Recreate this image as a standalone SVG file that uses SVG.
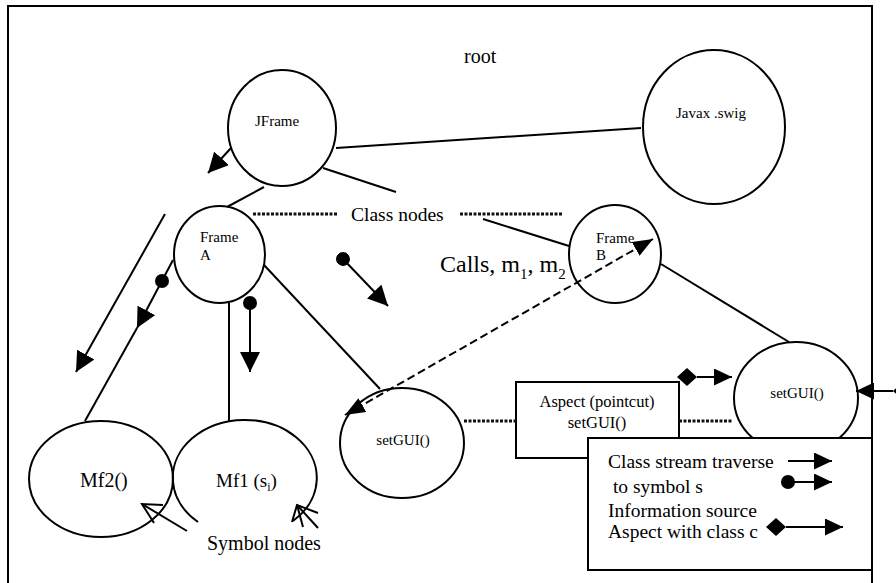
<svg xmlns="http://www.w3.org/2000/svg" width="896" height="583" viewBox="0 0 896 583">
<defs>
<style>
.ser{font-family:"Liberation Serif","Times New Roman",serif;fill:#000}
.nd{fill:none;stroke:#000;stroke-width:2}
.ln{fill:none;stroke:#000;stroke-width:2}
.dot{fill:none;stroke:#111;stroke-width:3;stroke-dasharray:3 1.5}
.dash{fill:none;stroke:#000;stroke-width:2;stroke-dasharray:8 4}
.box{fill:#fff;stroke:#000;stroke-width:2}
</style>
<marker id="ah" viewBox="0 0 20 20" markerWidth="20" markerHeight="20" refX="20" refY="10" orient="auto" markerUnits="userSpaceOnUse"><path d="M0,0 L20,10 L0,20 z" fill="#000"/></marker>
<marker id="ahs" viewBox="0 0 18 17" markerWidth="18" markerHeight="17" refX="18" refY="8.5" orient="auto" markerUnits="userSpaceOnUse"><path d="M0,0 L18,8.5 L0,17 z" fill="#000"/></marker>
<marker id="ahd" viewBox="0 0 20 16" markerWidth="20" markerHeight="16" refX="20" refY="8" orient="auto-start-reverse" markerUnits="userSpaceOnUse"><path d="M0,0 L20,8 L0,16 z" fill="#000"/></marker>
<marker id="ball" viewBox="0 0 14 14" markerWidth="14" markerHeight="14" refX="7" refY="7" orient="auto" markerUnits="userSpaceOnUse"><circle cx="7" cy="7" r="7" fill="#000"/></marker>
<marker id="dia" viewBox="0 0 20 18" markerWidth="20" markerHeight="18" refX="20" refY="9" orient="auto" markerUnits="userSpaceOnUse"><path d="M0,9 L10,0 L20,9 L10,18 z" fill="#000"/></marker>
</defs>
<rect width="896" height="583" fill="#fff"/>
<rect x="8" y="6" width="864" height="600" fill="none" stroke="#000" stroke-width="2"/>
<text class="ser" x="464" y="63" font-size="20">root</text>

<g id="jframe"><ellipse class="nd" cx="282" cy="128" rx="54" ry="58"/><text class="ser" x="255" y="126" font-size="15">JFrame</text></g>
<g id="javaxswig"><ellipse class="nd" cx="714" cy="127" rx="71" ry="77"/><text class="ser" x="676" y="118" font-size="15">Javax .swig</text></g>
<g id="frameA"><ellipse class="nd" cx="219.5" cy="254.5" rx="45.5" ry="48.5"/><text class="ser" x="200" y="242" font-size="15">Frame</text><text class="ser" x="200" y="260" font-size="15">A</text></g>
<g id="frameB"><ellipse class="nd" cx="615" cy="254" rx="46" ry="49"/><text class="ser" x="596" y="243" font-size="15">Frame</text><text class="ser" x="596" y="260" font-size="15">B</text></g>
<g id="mf2"><ellipse class="nd" cx="101" cy="479" rx="72" ry="58"/><text class="ser" x="80" y="487" font-size="20">Mf2()</text></g>
<g id="mf1"><path class="nd" d="M198,522 A72,58 0 1 1 293,521"/><text class="ser" x="216" y="487" font-size="19">Mf1 (s<tspan font-size="12" dy="4">i</tspan><tspan dy="-4">)</tspan></text></g>
<g id="setgui1"><ellipse class="nd" cx="402" cy="443" rx="62" ry="55"/><text class="ser" x="403" y="445" font-size="15" text-anchor="middle">setGUI()</text></g>
<g id="aspect"><rect class="box" x="516" y="382" width="163" height="76"/><text class="ser" x="597" y="407" font-size="16.5" text-anchor="middle">Aspect (pointcut)</text><text class="ser" x="597" y="428" font-size="16.5" text-anchor="middle">setGUI()</text></g>
<g id="setgui2"><ellipse class="nd" cx="796" cy="398" rx="62" ry="56"/><text class="ser" x="797" y="398" font-size="15" text-anchor="middle">setGUI()</text></g>

<g id="labels">
<text class="ser" x="351" y="221" font-size="19.5">Class nodes</text>
<text class="ser" x="440" y="272" font-size="24">Calls, m<tspan font-size="15" dy="7">1</tspan><tspan dy="-7">, m</tspan><tspan font-size="15" dy="7">2</tspan></text>
<text class="ser" x="207" y="550" font-size="20">Symbol nodes</text>
</g>

<g id="connectors">
<line class="ln" x1="336" y1="148" x2="641" y2="128"/>
<line class="ln" x1="323" y1="168" x2="396" y2="192"/>
<line class="ln" x1="483" y1="219" x2="569" y2="246"/>
<line class="ln" x1="264" y1="187" x2="227" y2="207"/>
<line class="ln" x1="231" y1="148" x2="208" y2="173" marker-end="url(#ah)"/>
<line class="ln" x1="264" y1="265" x2="380" y2="389"/>
<line class="ln" x1="229" y1="303" x2="229" y2="421"/>
<line class="ln" x1="173" y1="260" x2="137" y2="328" marker-end="url(#ah)"/>
<line class="ln" x1="137" y1="328" x2="85" y2="421"/>
<circle cx="162" cy="281" r="7" fill="#000"/>
<line class="ln" x1="165" y1="214" x2="76" y2="372" marker-end="url(#ah)"/>
<line class="ln" x1="250" y1="303" x2="250" y2="372" marker-start="url(#ball)" marker-end="url(#ah)"/>
<line class="ln" x1="343" y1="259" x2="388" y2="306" marker-start="url(#ball)" marker-end="url(#ah)"/>
<line class="ln" x1="661" y1="264" x2="789" y2="342"/>
<line class="dash" x1="345" y1="415" x2="653" y2="239" marker-start="url(#ahd)" marker-end="url(#ahd)"/>
<line class="dot" x1="253" y1="214" x2="337" y2="214"/>
<line class="dot" x1="460" y1="214" x2="563" y2="214"/>
<line class="dot" x1="464" y1="421" x2="516" y2="421"/>
<line class="dot" x1="679" y1="421" x2="733" y2="421"/>
<line class="ln" x1="697" y1="377" x2="732" y2="377" marker-start="url(#dia)" marker-end="url(#ahs)"/>
<line class="ln" x1="893" y1="391" x2="856" y2="391" marker-start="url(#dia)" marker-end="url(#ahs)"/>
<line class="ln" x1="187" y1="531" x2="142" y2="504"/>
<polyline class="ln" points="163,505 142,504 154,523"/>
<polyline class="ln" points="318,513 297,505 292,522"/>
<line class="ln" x1="318" y1="528" x2="297" y2="505"/>
<line class="ln" x1="303" y1="527" x2="297" y2="505"/>
</g>

<g id="legend">
<rect class="box" x="588" y="438" width="284" height="132"/>
<text class="ser" x="608" y="468" font-size="19.5">Class stream traverse</text>
<text class="ser" x="608" y="493" font-size="19.5" xml:space="preserve"> to symbol s</text>
<text class="ser" x="608" y="517" font-size="19.5">Information source</text>
<text class="ser" x="608" y="538" font-size="19.5">Aspect with class c</text>
<line class="ln" x1="788" y1="461" x2="832" y2="461" marker-end="url(#ahs)"/>
<line class="ln" x1="788" y1="482" x2="832" y2="482" marker-start="url(#ball)" marker-end="url(#ahs)"/>
<line class="ln" x1="786" y1="527" x2="843" y2="527" marker-start="url(#dia)" marker-end="url(#ahs)"/>
</g>
</svg>
